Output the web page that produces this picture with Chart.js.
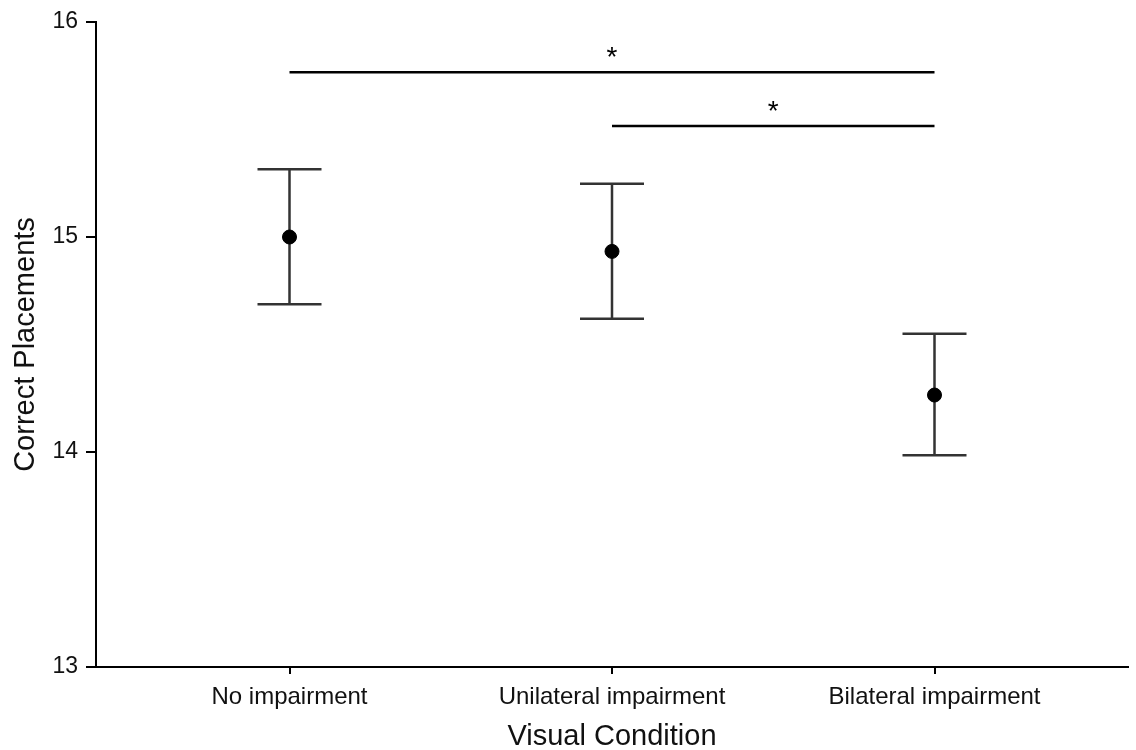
<!DOCTYPE html>
<html>
<head>
<meta charset="utf-8">
<title>Correct Placements by Visual Condition</title>
<script src="https://cdn.jsdelivr.net/npm/chart.js@4/dist/chart.umd.min.js"></script>
<style>
  html, body { margin: 0; padding: 0; background: #fff; }
  #wrap { width: 1136px; height: 750px; }
</style>
</head>
<body>
<div id="wrap"><canvas id="placements-chart" width="1136" height="750"></canvas></div>
<script>
// =============================================================================
// DATA
// =============================================================================

const categories = ['No impairment', 'Unilateral impairment', 'Bilateral impairment'];
const means = [15.0, 14.933, 14.265];
const lowerBounds = [14.687, 14.62, 13.985];
const upperBounds = [15.315, 15.248, 14.55];

// significance brackets: from category, to category, height, label
const sigFrom = [0, 1];
const sigTo = [2, 2];
const sigLevel = [15.766, 15.516];
const sigLabel = ['*', '*'];

const yTicks = [13, 14, 15, 16];

// =============================================================================
// PLUGINS
// =============================================================================

const FONT = '"Liberation Sans", Arial, Helvetica, sans-serif';

/**
 * Draw vertical error bars with caps behind the mean points
 */
const errorBarPlugin = {
  id: 'errorBars',
  beforeDatasetsDraw(chart) {
    const { ctx, scales: { x, y } } = chart;
    const capHalf = 32;
    ctx.save();
    ctx.strokeStyle = '#333333';
    ctx.lineWidth = 2.5;
    for (let i = 0; i < means.length; i++) {
      const px = x.getPixelForValue(i);
      const top = y.getPixelForValue(upperBounds[i]);
      const bottom = y.getPixelForValue(lowerBounds[i]);
      ctx.beginPath();
      ctx.moveTo(px, top);
      ctx.lineTo(px, bottom);
      ctx.moveTo(px - capHalf, top);
      ctx.lineTo(px + capHalf, top);
      ctx.moveTo(px - capHalf, bottom);
      ctx.lineTo(px + capHalf, bottom);
      ctx.stroke();
    }
    ctx.restore();
  }
};

/**
 * Draw the significance lines and their asterisks
 */
const sigPlugin = {
  id: 'sigBrackets',
  afterDatasetsDraw(chart) {
    const { ctx, scales: { x, y } } = chart;
    ctx.save();
    ctx.strokeStyle = '#000';
    ctx.fillStyle = '#000';
    ctx.lineWidth = 2.5;
    ctx.font = '28px ' + FONT;
    ctx.textAlign = 'center';
    ctx.textBaseline = 'alphabetic';
    for (let i = 0; i < sigFrom.length; i++) {
      const x1 = x.getPixelForValue(sigFrom[i]);
      const x2 = x.getPixelForValue(sigTo[i]);
      const py = y.getPixelForValue(sigLevel[i]);
      ctx.beginPath();
      ctx.moveTo(x1, py);
      ctx.lineTo(x2, py);
      ctx.stroke();
      ctx.fillText(sigLabel[i], (x1 + x2) / 2, py - 6);
    }
    ctx.restore();
  }
};

// =============================================================================
// CHART
// =============================================================================

const ctx = document.getElementById('placements-chart').getContext('2d');

new Chart(ctx, {
  type: 'scatter',
  data: {
    datasets: [{
      data: means.map((m, i) => ({ x: i, y: m })),
      backgroundColor: '#000',
      borderColor: '#000',
      pointRadius: 7,
      pointHoverRadius: 7
    }]
  },
  options: {
    responsive: false,
    animation: false,
    layout: { padding: { top: 22, right: 6, left: 0, bottom: 0 } },
    plugins: {
      legend: { display: false },
      tooltip: { enabled: false }
    },
    scales: {
      x: {
        type: 'linear',
        min: -0.6,
        max: 2.6,
        afterBuildTicks: (scale) => {
          scale.ticks = categories.map((c, i) => ({ value: i }));
        },
        afterFit: (scale) => { scale.height = 83; },
        border: { display: true, color: '#000', width: 2 },
        grid: { drawOnChartArea: false, drawTicks: true, tickLength: 7, color: '#000', lineWidth: 2 },
        ticks: {
          color: '#111',
          padding: 9,
          maxRotation: 0,
          font: { family: FONT, size: 24 },
          callback: (val) => categories[val] ?? ''
        },
        title: {
          display: true,
          text: 'Visual Condition',
          color: '#111',
          padding: 0,
          font: { family: FONT, size: 29, lineHeight: 0.9 }
        }
      },
      y: {
        min: 13,
        max: 16,
        afterBuildTicks: (scale) => {
          scale.ticks = yTicks.map(v => ({ value: v }));
        },
        afterFit: (scale) => { scale.width = 96; },
        border: { display: true, color: '#000', width: 2 },
        grid: { drawOnChartArea: false, drawTicks: true, tickLength: 10, color: '#000', lineWidth: 2 },
        ticks: {
          color: '#111',
          padding: 8,
          font: { family: FONT, size: 23 }
        },
        title: {
          display: true,
          text: 'Correct Placements',
          color: '#111',
          padding: { top: 11, bottom: 0 },
          font: { family: FONT, size: 29, lineHeight: 1 }
        }
      }
    }
  },
  plugins: [errorBarPlugin, sigPlugin]
});
</script>
</body>
</html>
